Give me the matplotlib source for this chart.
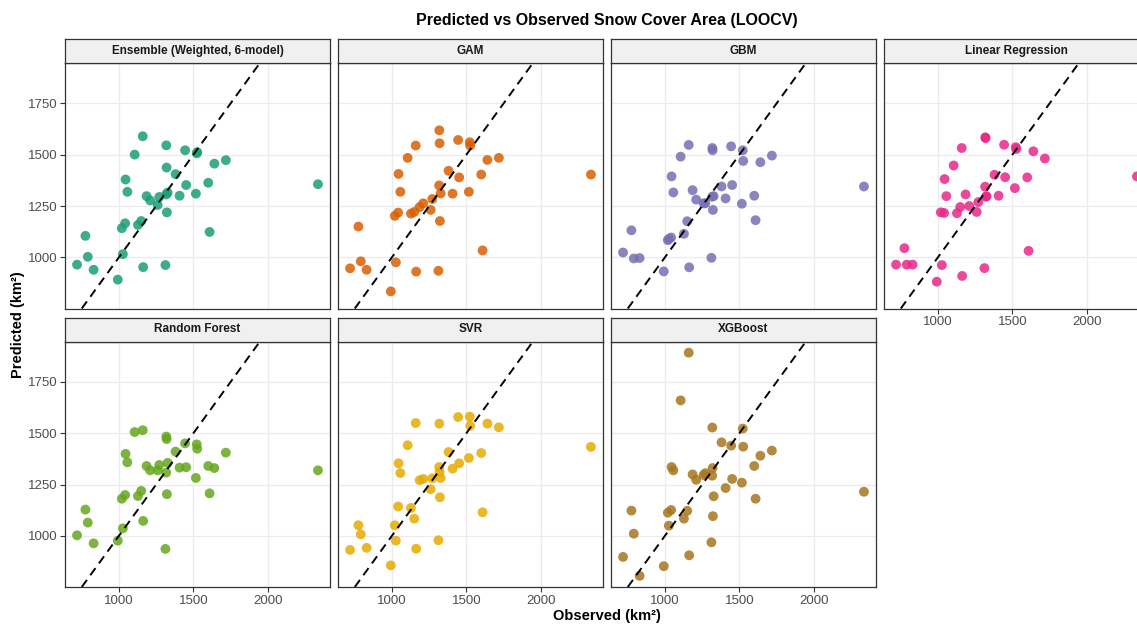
import matplotlib.pyplot as plt
import numpy as np

plt.rcParams['font.family'] = ['Liberation Sans', 'DejaVu Sans']

# observed snow cover area (km²), same for every model
observed = [720, 776, 792, 831, 993, 1020, 1027, 1042, 1045, 1057,
            1106, 1128, 1150, 1160, 1163, 1186, 1210, 1260, 1271, 1312,
            1317, 1318, 1320, 1322, 1327, 1380, 1407, 1444, 1451, 1516,
            1522, 1525, 1599, 1608, 1640, 1717, 2334]

# LOOCV predictions per model
ensemble = [965, 1105, 1003, 940, 892, 1142, 1016, 1166, 1379, 1319,
            1500, 1158, 1177, 1589, 953, 1298, 1277, 1255, 1294, 963,
            1306, 1545, 1437, 1219, 1315, 1405, 1300, 1521, 1352, 1310,
            1506, 1512, 1363, 1124, 1456, 1473, 1356]
gam = [947, 1150, 981, 940, 835, 1202, 976, 1218, 1406, 1319,
       1484, 1213, 1221, 1544, 931, 1245, 1263, 1231, 1284, 935,
       1350, 1618, 1555, 1177, 1311, 1421, 1310, 1571, 1389, 1319,
       1560, 1544, 1403, 1034, 1474, 1484, 1403]
gbm = [1024, 1132, 995, 997, 932, 1084, 1090, 1097, 1394, 1316,
       1490, 1115, 1176, 1547, 952, 1327, 1281, 1263, 1263, 998,
       1295, 1532, 1521, 1231, 1298, 1345, 1287, 1540, 1352, 1261,
       1521, 1469, 1300, 1181, 1463, 1495, 1345]
linreg = [965, 1045, 965, 965, 882, 1219, 963, 1216, 1381, 1298,
          1447, 1215, 1245, 1532, 910, 1306, 1250, 1221, 1269, 948,
          1344, 1584, 1580, 1295, 1298, 1402, 1300, 1548, 1390, 1337,
          1536, 1527, 1389, 1032, 1516, 1481, 1394]
rf = [1003, 1128, 1065, 964, 977, 1181, 1037, 1199, 1399, 1358,
      1505, 1194, 1219, 1514, 1073, 1340, 1319, 1319, 1345, 937,
      1308, 1483, 1471, 1203, 1355, 1410, 1332, 1450, 1334, 1282,
      1445, 1424, 1340, 1207, 1330, 1405, 1319]
svr = [932, 1052, 1008, 942, 857, 1052, 977, 1143, 1353, 1306,
       1441, 1136, 1084, 1549, 938, 1271, 1277, 1227, 1280, 979,
       1335, 1546, 1311, 1188, 1282, 1408, 1327, 1578, 1353, 1379,
       1580, 1536, 1403, 1115, 1546, 1528, 1433]
xgb = [898, 1123, 1011, 806, 853, 1113, 1050, 1126, 1335, 1319,
       1659, 1084, 1122, 1891, 906, 1299, 1273, 1296, 1305, 969,
       1293, 1527, 1330, 1096, 1193, 1455, 1233, 1439, 1277, 1259,
       1522, 1434, 1340, 1181, 1390, 1415, 1215]

models = ['Ensemble (Weighted, 6-model)', 'GAM', 'GBM', 'Linear Regression',
          'Random Forest', 'SVR', 'XGBoost']
preds = [ensemble, gam, gbm, linreg, rf, svr, xgb]
colors = ['#1B9E77', '#D95F02', '#7570B3', '#E7298A',
          '#66A61E', '#E6AB02', '#A6761D']

# ggplot-like 5% expansion, shared scales
xmin, xmax = min(observed), max(observed)
allp = np.concatenate([np.array(p) for p in preds])
ymin, ymax = allp.min(), allp.max()
xpad = 0.05 * (xmax - xmin)
ypad = 0.05 * (ymax - ymin)

W, H = 1137, 626
fig = plt.figure(figsize=(W / 100, H / 100), dpi=100)

col_left = [65, 338, 611, 884]
panel_w = 265
row_top = [63, 341.5]
panel_h = 245.5
strip_h = 24

for i, (name, p, c) in enumerate(zip(models, preds, colors)):
    r, k = divmod(i, 4)
    left = col_left[k]
    top = row_top[r]
    ax = fig.add_axes([left / W, 1 - (top + panel_h) / H, panel_w / W, panel_h / H])
    ax.scatter(observed, p, s=50, color=c, alpha=0.85, edgecolors='none', zorder=3)
    ax.axline((1000, 1000), slope=1, color='black', lw=1.4,
              linestyle=(0, (4.5, 3)), zorder=4)
    ax.set_xlim(xmin - xpad, xmax + xpad)
    ax.set_ylim(ymin - ypad, ymax + ypad)
    ax.set_xticks([1000, 1500, 2000])
    ax.set_yticks([1000, 1250, 1500, 1750])
    ax.grid(True, color='#EBEBEB', lw=0.9, zorder=0)
    ax.set_axisbelow(True)
    for s in ax.spines.values():
        s.set_color('#333333')
        s.set_linewidth(0.9)
    ax.tick_params(length=3.5, width=0.8, color='#333333',
                   labelsize=9.5, labelcolor='#4D4D4D', pad=2)
    if k != 0:
        ax.tick_params(axis='y', left=False, labelleft=False)
    if r == 0 and k != 3:
        ax.tick_params(axis='x', bottom=False, labelbottom=False)

    # facet strip
    sax = fig.add_axes([left / W, 1 - top / H, panel_w / W, strip_h / H])
    sax.set_facecolor('#F0F0F0')
    sax.set_xticks([])
    sax.set_yticks([])
    for s in sax.spines.values():
        s.set_color('#333333')
        s.set_linewidth(0.9)
    sax.text(0.5, 0.5, name, ha='center', va='center', fontsize=8.5,
             fontweight='bold', color='#1A1A1A', transform=sax.transAxes)

center_x = (col_left[0] + col_left[3] + panel_w) / 2 / W
fig.text(center_x, 1 - 20 / H, 'Predicted vs Observed Snow Cover Area (LOOCV)',
         ha='center', va='center', fontsize=11.5, fontweight='bold')
fig.text(center_x, 1 - 616 / H, 'Observed (km²)', ha='center', va='center',
         fontsize=10.5, fontweight='bold')
fig.text(18 / W, 1 - 325 / H, 'Predicted (km²)', ha='center', va='center',
         rotation=90, fontsize=10.5, fontweight='bold')

fig.savefig('out.png', dpi=100)
